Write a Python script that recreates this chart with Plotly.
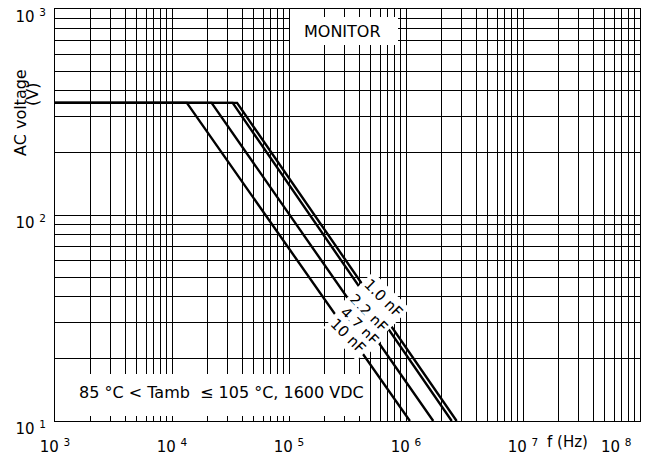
import plotly.graph_objects as go

# ---- data ----
capacitance = ["1.0 nF", "2.2 nF", "4.7 nF", "10 nF"]
f_start_hz = 1e3            # left end of the plateau
v_plateau = 350             # AC voltage on the flat part (V)
f_knee_hz = [36e3, 33e3, 21.8e3, 13.4e3]   # end of plateau per curve
f_end_hz = [2.71e6, 2.46e6, 1.71e6, 1.08e6]  # where each curve reaches 10 V
v_end = 10

x_decades = [3, 4, 5, 6, 7, 8]
y_decades = [1, 2, 3]
minor_mult = [2, 3, 4, 5, 6, 7, 8, 9]

FONT = "DejaVu Sans"


def log_ticks(decades, last_pad=0):
    vals, text = [], []
    for i, d in enumerate(decades):
        lab = "10\u00a0<sup>%d</sup>" % d
        if i == len(decades) - 1 and last_pad:
            lab = lab + "\u00a0" * last_pad
        vals.append(10.0 ** d)
        text.append(lab)
        if i < len(decades) - 1:
            for m in minor_mult:
                vals.append(m * 10.0 ** d)
                text.append("")
    return vals, text


xt_vals, xt_text = log_ticks(x_decades, last_pad=10)
yt_vals, yt_text = log_ticks(y_decades)

fig = go.Figure()
for name, fk, fe in zip(capacitance, f_knee_hz, f_end_hz):
    fig.add_trace(go.Scatter(
        x=[f_start_hz, fk, fe], y=[v_plateau, v_plateau, v_end],
        mode="lines", name=name, line=dict(color="black", width=2.4),
        showlegend=False, hoverinfo="skip"))

axis_common = dict(
    type="log", showgrid=True, gridcolor="black", gridwidth=1,
    showline=True, linecolor="black", linewidth=1, mirror="ticks",
    ticks="inside", ticklen=5, tickwidth=1, tickcolor="black",
    tickfont=dict(family=FONT, size=15, color="black"),
    zeroline=False, ticklabeloverflow="allow", automargin=False,
)

fig.update_layout(
    width=647, height=461, autosize=False,
    margin=dict(l=55, r=7, t=9, b=40, pad=0),
    paper_bgcolor="white", plot_bgcolor="white",
    font=dict(family=FONT, size=15, color="black"),
    xaxis=dict(range=[3, 8], tickvals=xt_vals, ticktext=xt_text,
               ticklabelstandoff=12, **axis_common),
    yaxis=dict(range=[1, 3], tickvals=yt_vals, ticktext=yt_text,
               ticklabelstandoff=5, ticklabelshift=8, **axis_common),
)

W, H, L, T = 585.0, 412.0, 55.0, 9.0


def px(x):
    return (x - L) / W


def py(y):
    return (T + H - y) / H


def note(text, x, y, size=16, angle=0, **kw):
    fig.add_annotation(text=text, x=px(x), y=py(y), xref="paper", yref="paper",
                       xanchor="center", yanchor="middle", showarrow=False,
                       textangle=angle, font=dict(family=FONT, size=size, color="black"),
                       **kw)


# white boxes behind the two text blocks (stop short of the tick marks)
fig.add_shape(type="rect", xref="paper", yref="paper",
              x0=px(56), x1=px(365), y0=py(416), y1=py(374),
              fillcolor="white", line=dict(width=0), layer="above")
fig.add_shape(type="rect", xref="paper", yref="paper",
              x0=px(290), x1=px(398), y0=py(45), y1=py(17),
              fillcolor="white", line=dict(width=0), layer="above")

note("MONITOR", 342, 31.5)
note("85 °C &lt; Tamb  ≤ 105 °C, 1600 VDC", 221, 392.5)

label_pos = [(383, 298), (368, 313), (359, 326), (348, 336)]
for name, (lx, ly) in zip(capacitance, label_pos):
    note(name, lx, ly, size=15, angle=45, bgcolor="white", borderpad=2)

note("f (Hz)", 567, 442, size=15)
note("AC voltage", 20, 113, angle=-90)
note("(V)", 32, 95, angle=-90)

fig.write_html("out.html", config={"displayModeBar": False},
               post_script="document.body.style.margin='0';document.body.style.overflow='hidden';")
